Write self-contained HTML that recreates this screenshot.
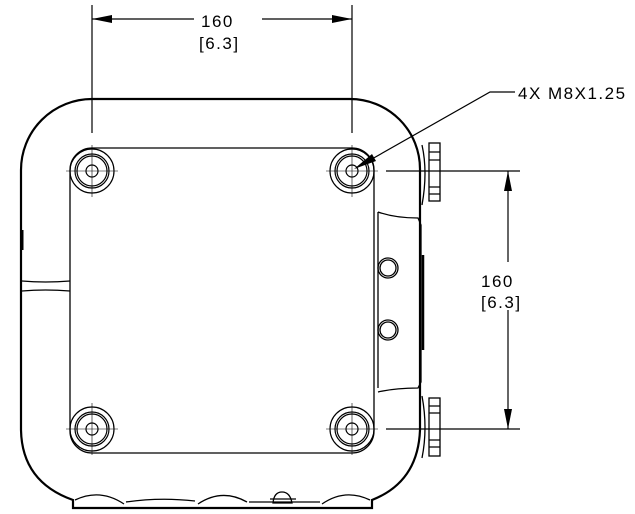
<!DOCTYPE html>
<html><head><meta charset="utf-8"><style>
html,body{margin:0;padding:0;background:#fff;}
svg{display:block;}
text{font-family:"Liberation Sans",sans-serif;font-size:17px;fill:#000;letter-spacing:1.5px;}
</style></head><body>
<svg width="635" height="514" viewBox="0 0 635 514" xmlns="http://www.w3.org/2000/svg" fill="none" stroke="#000">
<path d="M92,99 L350,99 A70,70 0 0 1 420,169 L420,430 Q418,482 372,500 L372,508 L73,508 L73,500 Q22,482 21,430 L21,170 A71,71 0 0 1 92,99 Z" stroke-width="2.2"/>
<g stroke-width="1.3">
<path d="M75,500 Q100,488 124,504"/>
<path d="M126,502 Q160,497 195,501"/>
<path d="M198,504 Q222,488 247,502"/>
<path d="M249,502 L320,502"/>
<path d="M322,504 Q345,488 370,500"/>
<path d="M273,503 Q274,492 282,492 Q290,492 292,503 Z"/>
<line x1="270" y1="499" x2="296" y2="499"/>
</g>
<path d="M22,281 Q45,283 70,281 M22,291 Q45,289 70,291" stroke-width="1.3"/>
<path d="M22,230 L22,250" stroke-width="3"/>
<path d="M92,148 L352,148 A22,22 0 0 1 374,170 L374,431 A22,22 0 0 1 352,453 L92,453 A22,22 0 0 1 70,431 L70,170 A22,22 0 0 1 92,148 Z" stroke-width="1.3"/>
<g stroke-width="1.2">
<g id="h">
<circle cx="92" cy="171" r="22"/><circle cx="92" cy="171" r="17"/><circle cx="92" cy="171" r="15"/><circle cx="92" cy="171" r="6"/>
<line x1="66" y1="171" x2="118" y2="171" stroke-width="0.6"/><line x1="92" y1="145" x2="92" y2="197" stroke-width="0.6"/>
</g>
<use href="#h" x="260"/><use href="#h" y="258"/><use href="#h" x="260" y="258"/>
</g>
<g stroke-width="1.3">
<path d="M378,212 L378,388"/>
<path d="M378,212 Q395,218 418,218 L421,225 L421,382 L418,388 Q395,388 378,392"/>
<line x1="423" y1="255" x2="423" y2="350" stroke-width="2.5"/>
<circle cx="388" cy="268" r="10"/><circle cx="388" cy="268" r="8"/>
<circle cx="388" cy="330" r="10"/><circle cx="388" cy="330" r="8"/>
<rect x="429" y="143" width="11" height="58"/>
<path d="M429,152 H440 M429,160 H440 M429,187 H440 M429,194 H440"/>
<path d="M422,145 Q428,172 422,205"/>
<rect x="429" y="398" width="11" height="58"/>
<path d="M429,406 H440 M429,413 H440 M429,440 H440 M429,447 H440"/>
<path d="M422,396 Q428,428 422,458"/>
</g>
<g stroke-width="1.2">
<line x1="92" y1="5" x2="92" y2="133"/>
<line x1="352" y1="5" x2="352" y2="133"/>
<line x1="92" y1="19" x2="194" y2="19"/>
<line x1="262" y1="19" x2="352" y2="19"/>
<line x1="386" y1="171" x2="520" y2="171"/>
<line x1="386" y1="429" x2="520" y2="429"/>
<line x1="508" y1="171" x2="508" y2="262"/>
<line x1="508" y1="310" x2="508" y2="429"/>
<polyline points="356,168 490,92 515,92"/>
</g>
<g fill="#000" stroke="none">
<polygon points="92,19 112,15 112,23"/>
<polygon points="352,19 332,15 332,23"/>
<polygon points="508,171 504,191 512,191"/>
<polygon points="508,429 504,409 512,409"/>
<polygon points="354,169 372,154 376,161"/>
</g>
<g stroke="none">
<text x="201" y="27">160</text>
<text x="199" y="49">[6.3]</text>
<text x="481" y="287">160</text>
<text x="481" y="308">[6.3]</text>
<text x="518" y="99">4X M8X1.25</text>
</g>
</svg>
</body></html>
